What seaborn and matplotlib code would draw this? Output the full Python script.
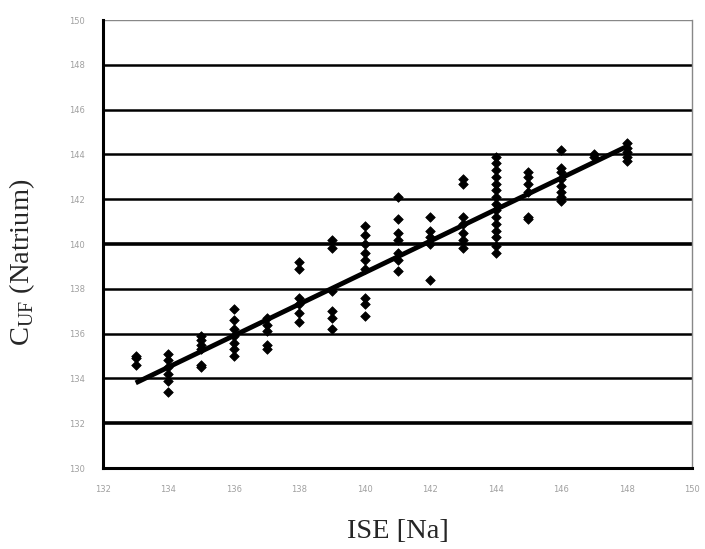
import matplotlib
matplotlib.use("Agg")
import matplotlib.pyplot as plt
import seaborn as sns
import pandas as pd
import numpy as np

# Data (ISE [Na] vs C_UF (Natrium))
x133 = [134.6, 134.9, 135.0]
x134 = [135.1, 134.8, 134.5, 134.2, 133.9, 133.4]
x135 = [135.9, 135.7, 135.5, 135.3, 134.6, 134.5]
x136 = [137.1, 136.6, 136.2, 135.9, 135.6, 135.3, 135.0]
x137 = [136.7, 136.4, 136.1, 135.5, 135.3]
x138 = [139.2, 138.9, 137.6, 137.3, 136.9, 136.5]
x139 = [140.2, 139.8, 137.9, 137.0, 136.7, 136.2]
x140 = [140.8, 140.4, 140.0, 139.6, 139.3, 138.9, 137.6, 137.3, 136.8]
x141 = [142.1, 141.1, 140.5, 140.2, 139.6, 139.3, 138.8]
x142 = [141.2, 140.6, 140.3, 140.0, 138.4]
x143 = [142.9, 142.7, 141.2, 140.9, 140.5, 140.2, 139.8]
x144 = [143.9, 143.6, 143.3, 143.0, 142.7, 142.4, 142.1, 141.8, 141.5,
        141.2, 140.9, 140.6, 140.3, 139.9, 139.6]
x145 = [143.2, 143.0, 142.7, 142.3, 141.2, 141.1]
x146 = [144.2, 143.4, 143.2, 142.9, 142.6, 142.3, 142.1, 141.9]
x147 = [143.9, 144.0]
x148 = [144.5, 144.3, 144.1, 143.9, 143.7]

groups = {133: x133, 134: x134, 135: x135, 136: x136, 137: x137, 138: x138,
          139: x139, 140: x140, 141: x141, 142: x142, 143: x143, 144: x144,
          145: x145, 146: x146, 147: x147, 148: x148}

fit_x = [133, 148]
fit_y = [133.8, 144.35]

x_ticks = [132, 134, 136, 138, 140, 142, 144, 146, 148, 150]
y_ticks = [130, 132, 134, 136, 138, 140, 142, 144, 146, 148, 150]

rows = [(k, v) for k, vals in groups.items() for v in vals]
df = pd.DataFrame(rows, columns=["ise", "cuf"])

sns.set_style("white")
plt.rcParams['font.family'] = ['DejaVu Sans']

fig = plt.figure(figsize=(7.05, 5.49), dpi=100)
ax = fig.add_axes([103/705, 1-468/549, (692-103)/705, (468-20)/549])

# horizontal grid lines
for yv in y_ticks[1:-1]:
    lw = 2.6 if yv in (132, 140) else 1.8
    ax.axhline(yv, color="black", lw=lw, zorder=1)
ax.axhline(150, color="#888888", lw=1.0, zorder=1)

sns.scatterplot(data=df, x="ise", y="cuf", ax=ax, marker="D", s=24,
                color="black", edgecolor="black", linewidth=0.5, zorder=3)
ax.plot(fit_x, fit_y, color="black", lw=3.5, zorder=4, solid_capstyle="butt")

ax.set_xlim(132, 150)
ax.set_ylim(130, 150)
ax.set_xticks(x_ticks)
ax.set_yticks(y_ticks)
ax.set_xticklabels([str(t) for t in x_ticks])
ax.set_yticklabels([str(t) for t in y_ticks])
ax.tick_params(axis="both", direction="out", length=5, width=2.5,
               color="black", labelsize=6, labelcolor="#a0a0a0", pad=8)
ax.tick_params(axis="x", length=6, pad=6)

for side in ("left", "bottom"):
    ax.spines[side].set_color("black")
    ax.spines[side].set_linewidth(2.2)
ax.spines["top"].set_visible(False)
ax.spines["right"].set_color("#888888")
ax.spines["right"].set_linewidth(1.0)

ax.set_xlabel("ISE [Na]", family=["Liberation Serif"], fontsize=20.5, labelpad=18)
ax.set_ylabel(r"C$_{\mathregular{UF}}$ (Natrium)", family=["Liberation Serif"],
              fontsize=20.5)
ax.yaxis.set_label_coords(-0.112, 0.46)

fig.savefig("out.png", dpi=100)
